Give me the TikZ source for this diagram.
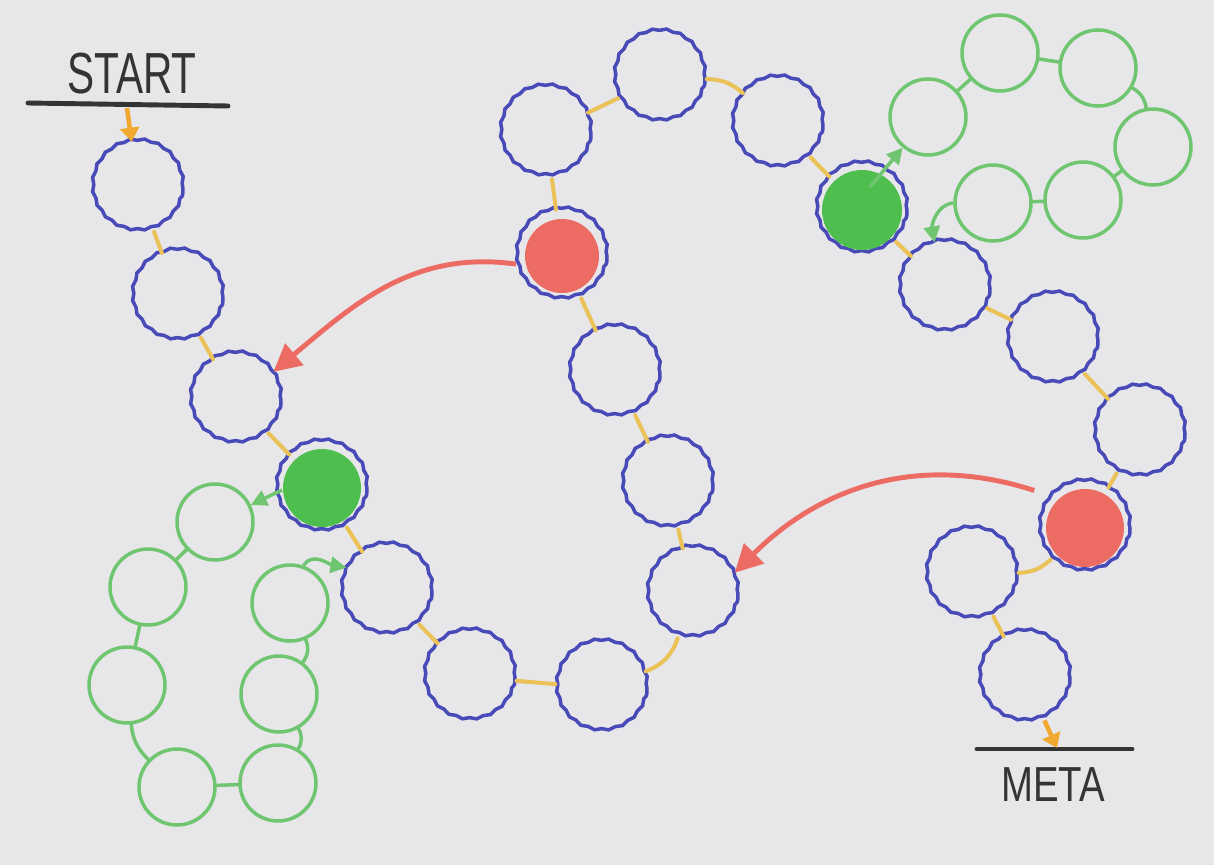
\documentclass[tikz,border=0pt]{standalone}
\usepackage{fontspec}
\setmainfont{Liberation Sans}
\usetikzlibrary{arrows.meta,decorations.pathmorphing}
\definecolor{paper}{RGB}{231,231,233}
\definecolor{fieldblue}{RGB}{72,74,184}
\definecolor{track}{RGB}{234,194,88}
\definecolor{bonus}{RGB}{112,198,112}
\definecolor{bonusfill}{RGB}{78,190,78}
\definecolor{trap}{RGB}{236,108,100}
\definecolor{arrowor}{RGB}{240,168,48}
\definecolor{ink}{RGB}{52,52,52}

\begin{document}
\begin{tikzpicture}[x=0.02cm, y=0.02cm,
		field/.style={circle, draw=fieldblue, line width=2pt, minimum size=1.8cm, inner sep=0pt, decorate, decoration={snake, segment length=8pt, amplitude=0.5pt}},
		extra/.style={circle, draw=bonus, line width=2pt, minimum size=1.52cm, inner sep=0pt},
		link/.style={draw=track, line width=2.3pt, line cap=round},
		glink/.style={draw=bonus, line width=2pt, line cap=round},
		jump/.style={draw=trap, line width=2.8pt, -{Triangle[length=0.55cm, width=0.55cm]}},
		shortcut/.style={draw=bonus, line width=2pt, -{Triangle[length=0.32cm, width=0.32cm]}},
		go/.style={draw=arrowor, line width=2.6pt, -{Triangle[length=0.28cm, width=0.38cm]}},
		underline/.style={draw=ink, line width=2.8pt, line cap=round},
		boardtext/.style={text=ink, font=\fontsize{33}{33}\selectfont, inner sep=0pt}]
			\fill[paper] (0,0) rectangle (1214,-865);
			\useasboundingbox (0,0) rectangle (1214,-865);
			
			\node[field] (b1) at (138,-188){};
			\node[field] (b2) at (178,-297){};
			\node[field] (b3) at (236,-400){};
			\node[field] (b4) at (322,-488){};
			\node[field] (b5) at (387,-591){};
			\node[field] (b6) at (470,-677){};
			\node[field] (b7) at (602,-688){};
			\node[field] (b8) at (693,-594){};
			\node[field] (b9) at (668,-484){};
			\node[field] (b10) at (615,-373){};
			\node[field] (b11) at (562,-256){};
			\node[field] (b12) at (546,-133){};
			\node[field] (b13) at (660,-78){};
			\node[field] (b14) at (778,-124){};
			\node[field] (b15) at (862,-210){};
			\node[field] (b16) at (945,-288){};
			\node[field] (b17) at (1053,-340){};
			\node[field] (b18) at (1140,-433){};
			\node[field] (b19) at (1085,-528){};
			\node[field] (b20) at (972,-575){};
			\node[field] (b21) at (1025,-678){};
			
			\fill[bonusfill] (b4) circle (0.78cm);
			\fill[bonusfill] (b15) circle (0.8cm);
			\fill[trap] (b11) circle (0.74cm);
			\fill[trap] (b19) circle (0.78cm);
			
			\node[extra] (gt1) at (928,-117){};
			\node[extra] (gt2) at (1000,-53){};
			\node[extra] (gt3) at (1098,-68){};
			\node[extra] (gt4) at (1153,-147){};
			\node[extra] (gt5) at (1083,-200){};
			\node[extra] (gt6) at (993,-203){};
			
			\node[extra] (gb1) at (215,-522){};
			\node[extra] (gb2) at (148,-587){};
			\node[extra] (gb3) at (127,-685){};
			\node[extra] (gb4) at (177,-787){};
			\node[extra] (gb5) at (278,-783){};
			\node[extra] (gb6) at (279,-694){};
			\node[extra] (gb7) at (290,-603){};
			
			\node[boardtext, xscale=0.7] (start) at (132,-74){START};
			\node[boardtext, font=\fontsize{28}{28}\selectfont, xscale=0.78] (meta) at (1053,-785){META};
			\draw[underline] (28,-103) -- (228,-106);
			\draw[underline] (977,-749) -- (1132,-749);
			\coordinate (startpt) at (127,-108);
			\coordinate (metapt) at (1057,-748);
			
			\path (b1) edge[link] (b2);
			\path (b2) edge[link] (b3);
			\path (b3) edge[link] (b4);
			\path (b4) edge[link] (b5);
			\path (b5) edge[link] (b6);
			\path (b6) edge[link] (b7);
			\path (b7) edge[link, bend right=25] (b8);
			\path (b8) edge[link] (b9);
			\path (b9) edge[link] (b10);
			\path (b10) edge[link] (b11);
			\path (b11) edge[link] (b12);
			\path (b12) edge[link] (b13);
			\path (b13) edge[link, bend left=20] (b14);
			\path (b14) edge[link] (b15);
			\path (b15) edge[link] (b16);
			\path (b16) edge[link] (b17);
			\path (b17) edge[link] (b18);
			\path (b18) edge[link] (b19);
			\path (b19) edge[link, bend left=20] (b20);
			\path (b20) edge[link] (b21);
			
			\path (gt1) edge[glink] (gt2);
			\path (gt2) edge[glink] (gt3);
			\path (gt3) edge[glink, bend left=25] (gt4);
			\path (gt4) edge[glink] (gt5);
			\path (gt5) edge[glink] (gt6);
			
			\path (gb1) edge[glink] (gb2);
			\path (gb2) edge[glink] (gb3);
			\path (gb3) edge[glink, bend right=20] (gb4);
			\path (gb4) edge[glink] (gb5);
			\path (gb5) edge[glink, bend right=30] (gb6);
			\path (gb6) edge[glink, bend right=30] (gb7);
			
			\draw[go] (startpt) -- (b1);
			\draw[go] (b21) -- (metapt);
			
			\draw[shortcut] (b15) ++(8,23) -- (gt1);
			\draw[shortcut] (gt6.west) to[out=185, in=100] (b16.103);
			\draw[shortcut] (b4) ++(-40,-2) -- (gb1);
			\draw[shortcut] (gb7.70) to[out=60, in=170] (b5.150);
			
			\draw[jump] (b11.190) to[out=172, in=40] (b3.37);
			\draw[jump] ([xshift=-0.3cm, yshift=0.15cm]b19.140) to[out=162, in=45] (b8.27);
\end{tikzpicture}
\end{document}
